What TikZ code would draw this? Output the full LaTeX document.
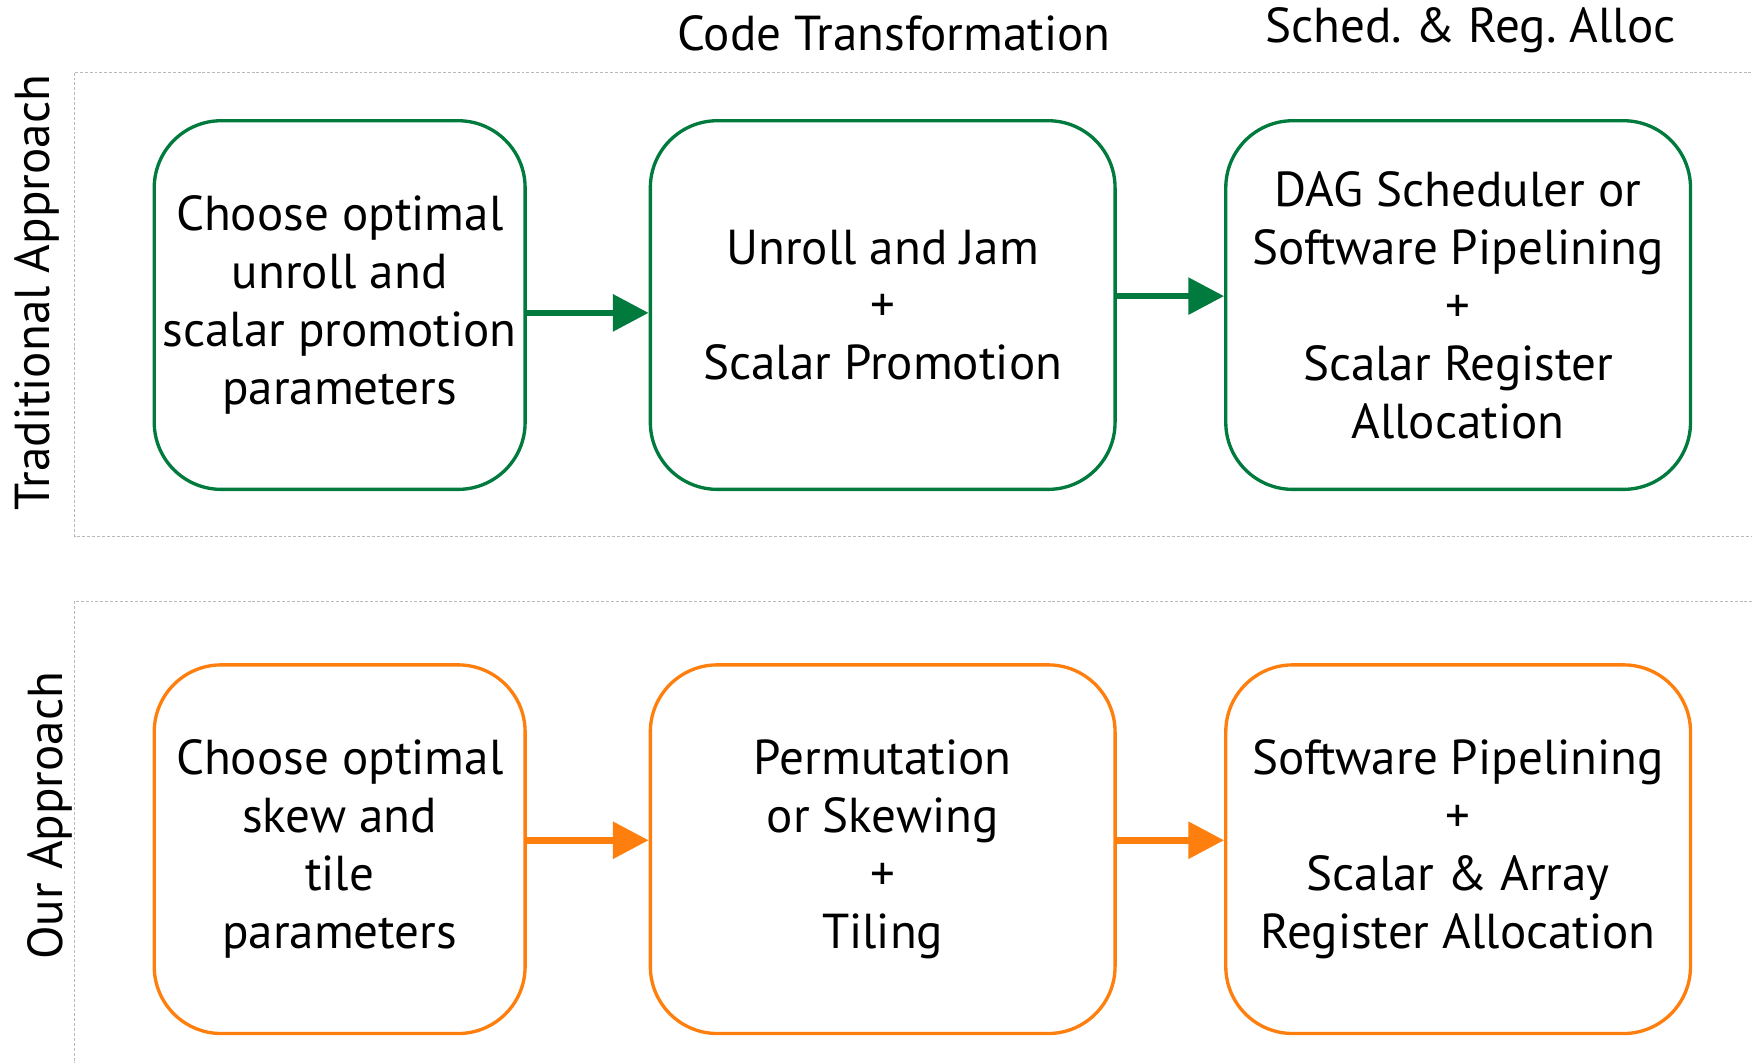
\documentclass[tikz,border=0pt]{standalone}
\usepackage{fontspec}
\setmainfont{PT Sans}
\usetikzlibrary{arrows.meta}
\definecolor{tradgreen}{RGB}{0,122,61}
\definecolor{ourorange}{RGB}{255,127,14}
\newcommand{\boxfont}{\fontsize{25}{29.5}\selectfont}

\begin{document}
\begin{tikzpicture}[x=0.02cm,y=-0.02cm,
  stage/.style={draw,rounded corners=1.2cm,line width=1.7pt,align=center,
    font=\boxfont,inner sep=0pt,minimum height=6.6cm},
  narrow/.style={minimum width=6.64cm},
  wide/.style={minimum width=8.32cm},
  flow/.style={line width=3.4pt,-{Triangle[length=0.64cm,width=0.64cm]}},
  panel/.style={draw=gray!55,line width=0.5pt,dash pattern=on 1.5pt off 1pt},
  heading/.style={font=\boxfont}]
\useasboundingbox (0,0) rectangle (1568,951);
% panels
\draw[panel] (67,65) rectangle (1575,480);
\draw[panel] (67,538) rectangle (1575,960);
\node[heading,rotate=90] (tradlbl) at (33,262) {Traditional Approach};
\node[heading,rotate=90] (ourlbl) at (45,730) {Our Approach};
% column headings
\node[heading] (codehd) at (800,30) {Code Transformation};
\node[heading] (schedhd) at (1316,27) {Sched.\ \& Reg.\ Alloc};
% traditional row
\node[stage,narrow,tradgreen] (t1) at (304,273) {\color{black}Choose optimal\\ \color{black}unroll and\\ \color{black}scalar promotion\\ \color{black}parameters};
\node[stage,wide,tradgreen] (t2) at (790,273) {\color{black}Unroll and Jam\\ \color{black}+\\ \color{black}Scalar Promotion};
\node[stage,wide,tradgreen] (t3) at (1305,273) {\color{black}DAG Scheduler or\\ \color{black}Software Pipelining\\ \color{black}+\\ \color{black}Scalar Register\\ \color{black}Allocation};
\draw[flow,tradgreen] ([yshift=-0.14cm]t1.east) -- ([yshift=-0.14cm]t2.west);
\draw[flow,tradgreen] ([yshift=0.16cm]t2.east) -- ([yshift=0.16cm]t3.west);
% our row
\node[stage,narrow,ourorange] (o1) at (304,760) {\color{black}Choose optimal\\ \color{black}skew and\\ \color{black}tile\\ \color{black}parameters};
\node[stage,wide,ourorange] (o2) at (790,760) {\color{black}Permutation\\ \color{black}or Skewing\\ \color{black}+\\ \color{black}Tiling};
\node[stage,wide,ourorange] (o3) at (1305,760) {\color{black}Software Pipelining\\ \color{black}+\\ \color{black}Scalar \& Array\\ \color{black}Register Allocation};
\draw[flow,ourorange] ([yshift=0.16cm]o1.east) -- ([yshift=0.16cm]o2.west);
\draw[flow,ourorange] ([yshift=0.16cm]o2.east) -- ([yshift=0.16cm]o3.west);
\end{tikzpicture}
\end{document}
